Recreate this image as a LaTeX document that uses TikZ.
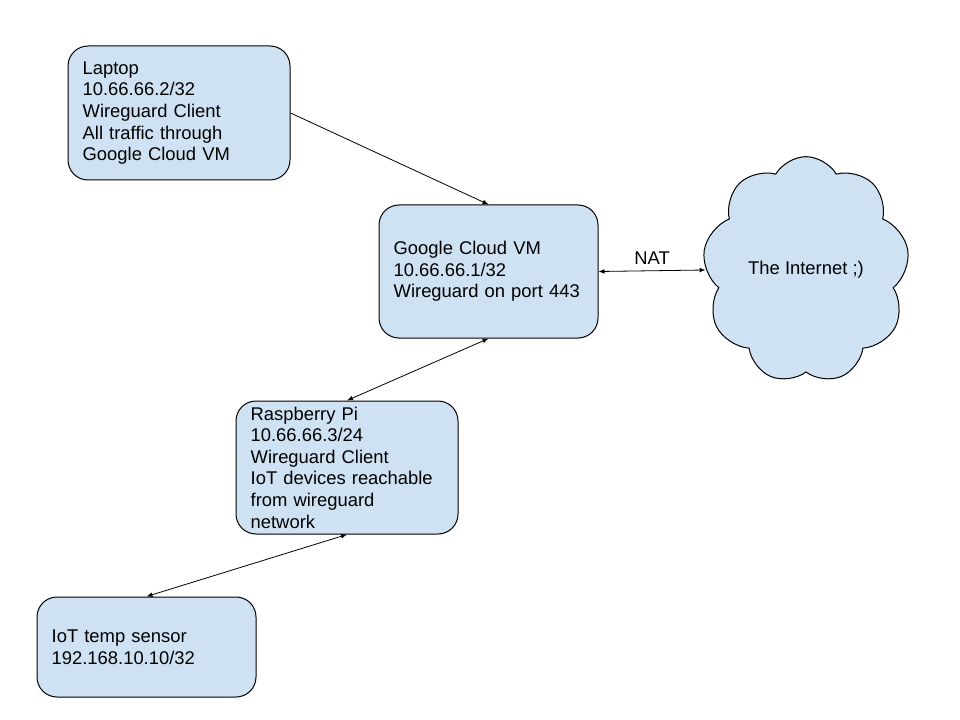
\documentclass[tikz,border=0pt]{standalone}
\usepackage{fontspec}
\setmainfont{Liberation Sans}
\usetikzlibrary{shapes.symbols,arrows.meta}
\definecolor{boxblue}{HTML}{CFE2F3}
\tikzset{
  box/.style={draw=black, fill=boxblue, rounded corners=15pt, line width=0.75pt,
    align=left, inner xsep=11pt, inner ysep=0pt,
    font=\fontsize{13.8}{16.2}\selectfont},
  link/.style={line width=0.6pt, -{Latex[length=4.5pt,width=3.5pt]}},
  twoway/.style={line width=0.6pt, {Latex[length=4.5pt,width=3.5pt]}-{Latex[length=4.5pt,width=3.5pt]}}
}
\begin{document}
\begin{tikzpicture}[x=0.75pt,y=-0.75pt]
\useasboundingbox[fill=white] (0,0) rectangle (960,720);
%boxes
\node[box, minimum width=166.5pt, minimum height=100.5pt, text width=144.5pt] (laptop) at (179,113)
  {Laptop\\10.66.66.2/32\\Wireguard Client\\All traffic through\\Google Cloud VM};
\node[box, minimum width=164.25pt, minimum height=99.75pt, text width=142.25pt] (vm) at (488.5,271.5)
  {Google Cloud VM\\10.66.66.1/32\\Wireguard on port 443};
\node[box, minimum width=166.5pt, minimum height=99.75pt, text width=144.5pt] (pi) at (347,467.5)
  {Raspberry Pi\\10.66.66.3/24\\Wireguard Client\\IoT devices reachable\\from wireguard\\network};
\node[box, minimum width=164.25pt, minimum height=75pt, text width=142.25pt] (sensor) at (146.5,647)
  {IoT temp sensor\\192.168.10.10/32};
%cloud
\node[cloud, draw=black, fill=boxblue, line width=0.75pt, cloud puffs=9, cloud puff arc=120,
  cloud ignores aspect, minimum width=155pt, minimum height=170pt, inner sep=0pt,
  font=\fontsize{13.8}{16.2}\selectfont] (internet) at (806,270) {The Internet ;)};
%links
\draw[link] (laptop.east) -- (vm.north);
\draw[twoway] (vm.south) -- (pi.north);
\draw[twoway] (pi.south) -- (sensor.north);
\draw[twoway] (vm.east) -- node[above=1pt, font=\fontsize{13.8}{16.2}\selectfont] {NAT} (internet.west);
\end{tikzpicture}
\end{document}
